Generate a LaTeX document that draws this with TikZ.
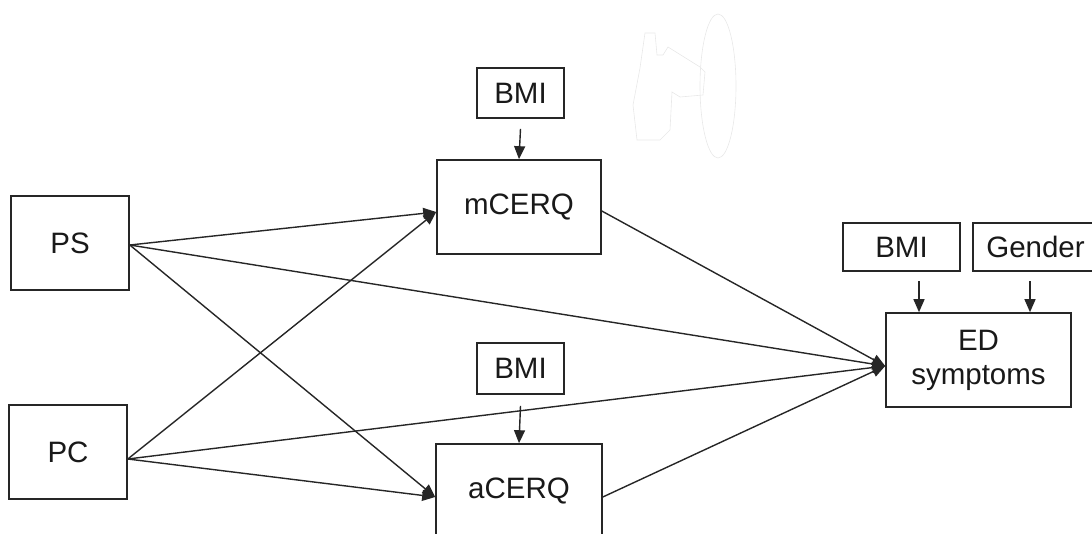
\documentclass[tikz,border=0pt]{standalone}
\usepackage{fontspec}
\setmainfont{Liberation Sans}
\usetikzlibrary{arrows.meta}
\begin{document}
\begin{tikzpicture}[x=1pt,y=-1pt,
  box/.style={draw=black!85, line width=1.6pt, fill=white, inner sep=0pt, align=center,
    font=\fontsize{29.5}{35}\selectfont, text=black!90},
  arr/.style={draw=black!85, line width=1.4pt, -{Triangle[length=13pt,width=11pt]}},
  faint/.style={draw=black!9, line width=0.6pt}]
\useasboundingbox (0,0) rectangle (1092,533);
% faint scribble artifact
\draw[faint] (718,86) ellipse [x radius=18, y radius=72];
\draw[faint] (645,33) -- (655,33) -- (657,55) -- (663,55) -- (668,47) -- (700,67) -- (705,72) -- (703,95) -- (680,97) -- (672,92) -- (670,130) -- (660,140) -- (637,140) -- (633,105) -- (640,68) -- cycle;
% nodes
\node[box, minimum width=118pt, minimum height=94pt] (PS) at (70,243) {PS};
\node[box, minimum width=118pt, minimum height=94pt] (PC) at (68,452) {PC};
\node[box, minimum width=164pt, minimum height=94pt] (mC) at (519,207) {mCERQ};
\node[box, minimum width=166pt, minimum height=94pt] (aC) at (519,491) {aCERQ};
\node[box, minimum width=87pt, minimum height=50pt] (B1) at (520.5,93) {BMI};
\node[box, minimum width=87pt, minimum height=51pt] (B2) at (520.5,368.5) {BMI};
\node[box, minimum width=117pt, minimum height=48pt] (B3) at (901.5,247) {BMI};
\node[box, minimum width=125pt, minimum height=48pt] (G) at (1035.5,247) {Gender};
\node[box, minimum width=185pt, minimum height=94pt] (ED) at (978.5,360) {ED\\[-1pt]symptoms};
% connector points
\coordinate (psOut) at ([yshift=-2pt]PS.east);
\coordinate (pcOut) at ([yshift=-7pt]PC.east);
\coordinate (mIn) at ([yshift=-5pt]mC.west);
\coordinate (aIn) at ([yshift=-6pt]aC.west);
\coordinate (edIn) at ([yshift=-6pt]ED.west);
\coordinate (mOut) at ([yshift=-4pt]mC.east);
\coordinate (aOut) at ([yshift=-6pt]aC.east);
\coordinate (b3s) at (919,281);
\coordinate (gs) at (1030,281);
% connectors
\draw[arr] (psOut) -- (mIn);
\draw[arr] (psOut) -- (edIn);
\draw[arr] (psOut) -- (aIn);
\draw[arr] (pcOut) -- (mIn);
\draw[arr] (pcOut) -- (edIn);
\draw[arr] (pcOut) -- (aIn);
\draw[arr] (mOut) -- (edIn);
\draw[arr] (aOut) -- (edIn);
\draw[arr] ([yshift=-10pt]B1.south) -- (mC.north);
\draw[arr] ([yshift=-11pt]B2.south) -- (aC.north);
\draw[arr] (b3s) -- (b3s |- ED.north);
\draw[arr] (gs) -- (gs |- ED.north);
\end{tikzpicture}
\end{document}
